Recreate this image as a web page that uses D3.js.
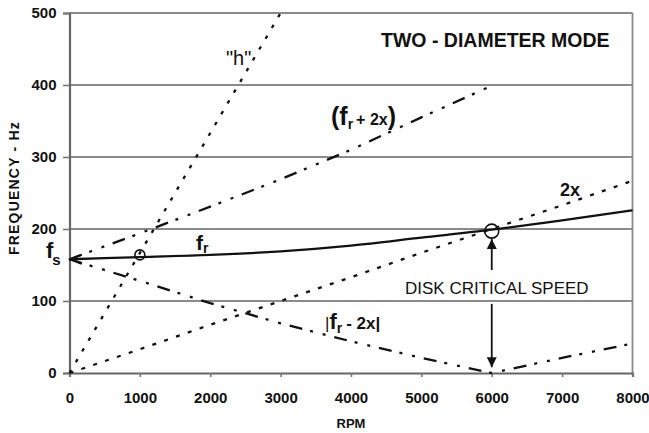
<!DOCTYPE html>
<html>
<head>
<meta charset="utf-8">
<script src="https://cdn.jsdelivr.net/npm/d3@7"></script>
<style>
  body { margin: 0; background: #fff; }
  svg { display: block; font-family: "Liberation Sans", Arial, sans-serif; }
</style>
</head>
<body>
<div id="main"></div>
<script>
// values
const rpm = [0, 1000, 2000, 3000, 4000, 5000, 6000, 7000, 8000];
const frHz = [158, 161, 164, 169, 177, 188, 199, 212, 226];
const twoXHz = [0, 33, 67, 100, 133, 167, 200, 233, 267];
const frPlus2xHz = [158, 194, 231, 269, 310, 355, 399]; // stops at 6000
const frMinus2xHz = [158, 128, 97, 69, 44, 21, 0, 21, 41];
const hRpm = [0, 3000];
const hHz = [0, 500];
const crossings = [{rpm: 1000, hz: 164, r: 5}, {rpm: 6000, hz: 197, r: 7}];
const xTicks = [0, 1000, 2000, 3000, 4000, 5000, 6000, 7000, 8000];
const yTicks = [0, 100, 200, 300, 400, 500];

const width = 649, height = 433;
const svg = d3.select('#main').append('svg').attr('width', width).attr('height', height);

const x = d3.scaleLinear().domain([0, 8000]).range([69.5, 632.5]);
const y = d3.scaleLinear().domain([0, 500]).range([373, 13]);

// grid + frame
svg.append('g').selectAll('line').data(yTicks.filter(d => d > 0)).join('line')
  .attr('x1', x(0)).attr('x2', x(8000))
  .attr('y1', d => y(d)).attr('y2', d => y(d))
  .attr('stroke', '#8a8a8a').attr('stroke-width', 1.8);
svg.append('line').attr('x1', x(8000)).attr('x2', x(8000)).attr('y1', y(500)).attr('y2', y(0))
  .attr('stroke', '#8a8a8a').attr('stroke-width', 1.8);

// axes
const yAxis = svg.append('g').attr('transform', `translate(${x(0)},0)`)
  .call(d3.axisLeft(y).tickValues(yTicks).tickFormat(d3.format('d')).tickSize(6.5).tickPadding(6.5));
const xAxis = svg.append('g').attr('transform', `translate(0,${y(0)})`)
  .call(d3.axisBottom(x).tickValues(xTicks).tickFormat(d3.format('d')).tickSize(4).tickPadding(15));
[xAxis, yAxis].forEach(g => {
  g.select('.domain').attr('stroke', '#666').attr('stroke-width', 2.2);
  g.selectAll('.tick line').attr('stroke', '#777').attr('stroke-width', 1.6);
  g.selectAll('.tick text').attr('fill', '#111').attr('font-size', 15).attr('font-weight', 'bold')
    .attr('font-family', '"Liberation Sans", Arial, sans-serif');
});

const line = d3.line().x(d => x(d[0])).y(d => y(d[1]));
const dashDotDot = '13,8,3,10,3,9';

function drawSeries(xs, ys, dash, curve) {
  svg.append('path')
    .datum(xs.map((v, i) => [v, ys[i]]))
    .attr('d', curve ? line.curve(curve) : line.curve(d3.curveLinear))
    .attr('fill', 'none').attr('stroke', '#111').attr('stroke-width', 2.3)
    .attr('stroke-dasharray', dash);
}

drawSeries(hRpm, hHz, '3.5,9');
drawSeries(rpm, twoXHz, '4,8.5');
drawSeries(rpm.slice(0, frPlus2xHz.length), frPlus2xHz, dashDotDot);
drawSeries(rpm, frMinus2xHz, dashDotDot);
drawSeries(rpm, frHz, null, d3.curveMonotoneX);

// fs arrow head on the fr line
svg.append('path')
  .attr('d', `M${x(0) + 12},${y(frHz[0]) - 4.5}L${x(0) + 1},${y(frHz[0])}L${x(0) + 12},${y(frHz[0]) + 4.5}`)
  .attr('fill', 'none').attr('stroke', '#111').attr('stroke-width', 2);

// crossing circles
svg.append('g').selectAll('circle').data(crossings).join('circle')
  .attr('cx', d => x(d.rpm)).attr('cy', d => y(d.hz)).attr('r', d => d.r)
  .attr('fill', 'none').attr('stroke', '#111').attr('stroke-width', 1.6);

// critical speed arrows
svg.append('defs').append('marker')
  .attr('id', 'tri').attr('viewBox', '0 0 10 10').attr('refX', 10).attr('refY', 5)
  .attr('markerUnits', 'userSpaceOnUse').attr('markerWidth', 13).attr('markerHeight', 10)
  .attr('orient', 'auto')
  .append('path').attr('d', 'M0,0L10,5L0,10Z').attr('fill', '#111');
[[143, 186], [96, 8]].forEach(([a, b]) => {
  svg.append('line')
    .attr('x1', x(6000)).attr('x2', x(6000)).attr('y1', y(a)).attr('y2', y(b))
    .attr('stroke', '#111').attr('stroke-width', 1.8).attr('marker-end', 'url(#tri)');
});

// labels
const txt = (px, py, size, weight) => svg.append('text')
  .attr('x', px).attr('y', py).attr('font-size', size).attr('font-weight', weight).attr('fill', '#111');

txt(381, 47, 19.5, 'bold').text('TWO - DIAMETER MODE');
txt(226, 65, 20, 'normal').text('"h"');

const frp = txt(331, 125, 25, 'bold');
frp.append('tspan').text('(f');
frp.append('tspan').attr('font-size', 14).attr('dy', 4).text('r');
frp.append('tspan').attr('font-size', 16).attr('dy', -4).attr('dx', 3).text('+ 2x');
frp.append('tspan').attr('font-size', 25).text(')');

txt(560, 196, 18, 'bold').text('2x');

const fr = txt(196, 250, 21, 'bold');
fr.append('tspan').text('f');
fr.append('tspan').attr('font-size', 14).attr('dy', 3).text('r');

const fs = txt(46, 258, 22, 'bold');
fs.append('tspan').text('f');
fs.append('tspan').attr('font-size', 15).attr('dy', 7).attr('dx', -1).text('s');

txt(405, 294, 17, 'normal').text('DISK CRITICAL SPEED');

const frm = txt(325, 329, 22, 'bold');
frm.append('tspan').attr('font-size', 17).attr('font-weight', 'normal').text('|');
frm.append('tspan').text('f');
frm.append('tspan').attr('font-size', 14).attr('dy', 4).text('r');
frm.append('tspan').attr('font-size', 17).attr('dy', -4).attr('dx', 4).text('- 2x|');

// axis titles
svg.append('text').attr('x', 351).attr('y', 428).attr('text-anchor', 'middle')
  .attr('font-size', 13).attr('font-weight', 'bold').attr('fill', '#111').text('RPM');
svg.append('text').attr('transform', 'translate(19,188) rotate(-90)').attr('text-anchor', 'middle')
  .attr('font-size', 14).attr('font-weight', 'bold').attr('letter-spacing', 1.2).attr('fill', '#111')
  .text('FREQUENCY - Hz');
</script>
</body>
</html>
